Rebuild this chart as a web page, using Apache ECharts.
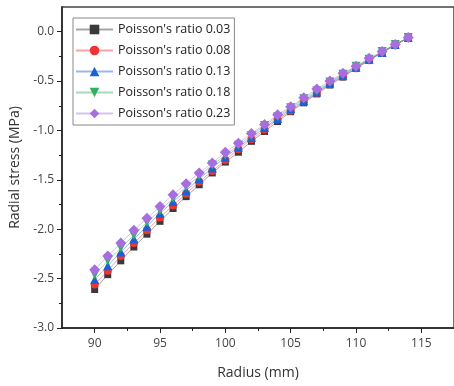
<!DOCTYPE html>
<html>
<head>
<meta charset="utf-8">
<script src="https://cdn.jsdelivr.net/npm/echarts@6/dist/echarts.min.js"></script>
<style>
html,body{margin:0;padding:0;background:#fff;}
#c{width:454px;height:386px;}
</style>
</head>
<body>
<div id="c"></div>
<script>
const radius = [90,91,92,93,94,95,96,97,98,99,100,101,102,103,104,105,106,107,108,109,110,111,112,113,114];
const s003 = [-2.61,-2.46,-2.32,-2.18,-2.05,-1.92,-1.79,-1.67,-1.55,-1.43,-1.32,-1.22,-1.11,-1.01,-0.91,-0.81,-0.72,-0.63,-0.54,-0.46,-0.37,-0.29,-0.21,-0.14,-0.06];
const s008 = [-2.56,-2.42,-2.27,-2.14,-2.01,-1.88,-1.76,-1.64,-1.52,-1.41,-1.30,-1.19,-1.09,-0.99,-0.89,-0.80,-0.71,-0.62,-0.53,-0.45,-0.37,-0.29,-0.21,-0.13,-0.06];
const s013 = [-2.51,-2.37,-2.23,-2.10,-1.97,-1.84,-1.72,-1.61,-1.49,-1.38,-1.27,-1.17,-1.07,-0.97,-0.88,-0.78,-0.70,-0.61,-0.52,-0.44,-0.36,-0.28,-0.21,-0.13,-0.06];
const s018 = [-2.46,-2.32,-2.19,-2.06,-1.93,-1.81,-1.69,-1.57,-1.46,-1.35,-1.25,-1.15,-1.05,-0.95,-0.86,-0.77,-0.68,-0.60,-0.51,-0.43,-0.35,-0.28,-0.20,-0.13,-0.06];
const s023 = [-2.41,-2.27,-2.14,-2.01,-1.89,-1.77,-1.65,-1.54,-1.43,-1.33,-1.22,-1.13,-1.03,-0.94,-0.84,-0.76,-0.67,-0.58,-0.50,-0.42,-0.35,-0.27,-0.20,-0.13,-0.06];
const seriesNames = ["Poisson's ratio 0.03","Poisson's ratio 0.08","Poisson's ratio 0.13","Poisson's ratio 0.18","Poisson's ratio 0.23"];
const xLabels = [90,95,100,105,110,115];
const xMinor = [92.5,97.5,102.5,107.5,112.5];
const yLabels = [-3,-2.5,-2,-1.5,-1,-0.5,0];
const yMinor = [-2.75,-2.25,-1.75,-1.25,-0.75,-0.25];

const allData = [s003,s008,s013,s018,s023];
const colors = ['#3a3a3a','#f03434','#1a62d4','#33b060','#a86ee0'];
const symbols = ['rect','circle','triangle','path://M0,0 L10,0 L5,9 Z','diamond'];
const sizes = [7,8,9,9,11];
const font = '"Open Sans", Lato, sans-serif';

const chart = echarts.init(document.getElementById('c'));
const series = allData.map((d,i)=>({
  name: seriesNames[i],
  type: 'line',
  xAxisIndex: 0, yAxisIndex: 0,
  data: d.map((v,j)=>[radius[j], v]),
  symbol: symbols[i],
  symbolSize: sizes[i],
  itemStyle: {color: colors[i]},
  lineStyle: {color: colors[i], width: 1, opacity: 0.45},
  z: 3+i
}));

chart.setOption({
  animation: false,
  grid: {left: 60, top: 7, right: -6, bottom: 58, show: true, borderColor: '#444', borderWidth: 1.5},
  legend: {
    orient: 'vertical', left: 73, top: 18,
    itemWidth: 37, itemHeight: 12, itemGap: 8,
    padding: [5, 4, 5, 2],
    borderColor: '#888', borderWidth: 1,
    textStyle: {fontFamily: font, fontSize: 12.5, color: '#222'},
    data: seriesNames
  },
  xAxis: [{
    type: 'value', min: 87.5, max: 117.5, position: 'bottom',
    name: 'Radius (mm)', nameLocation: 'middle', nameGap: 38,
    nameTextStyle: {fontFamily: font, fontSize: 14, color: '#333'},
    axisLine: {show: true, onZero: false, lineStyle: {color: '#222', width: 1.5}},
    axisTick: {show: true, customValues: xLabels, length: 5, inside: false, lineStyle: {color: '#222', width: 1}},
    axisLabel: {customValues: xLabels, margin: 10, fontFamily: font, fontSize: 12, color: '#444'},
    splitLine: {show: false}
  },{
    type: 'value', min: 87.5, max: 117.5, position: 'bottom',
    axisLine: {show: false, onZero: false},
    axisTick: {show: true, customValues: xMinor, length: 3, lineStyle: {color: '#222', width: 1}},
    axisLabel: {show: false},
    splitLine: {show: false}
  }],
  yAxis: [{
    type: 'value', min: -3, max: 0.25, position: 'left',
    name: 'Radial stress (MPa)', nameLocation: 'middle', nameGap: 40,
    nameTextStyle: {fontFamily: font, fontSize: 14, color: '#333'},
    axisLine: {show: true, onZero: false, lineStyle: {color: '#222', width: 1.5}},
    axisTick: {show: true, customValues: yLabels, length: 5, lineStyle: {color: '#222', width: 1}},
    axisLabel: {customValues: yLabels, margin: 8, fontFamily: font, fontSize: 12, color: '#444',
      formatter: v => v.toFixed(1)},
    splitLine: {show: false}
  },{
    type: 'value', min: -3, max: 0.25, position: 'left',
    axisLine: {show: false, onZero: false},
    axisTick: {show: true, customValues: yMinor, length: 3, lineStyle: {color: '#222', width: 1}},
    axisLabel: {show: false},
    splitLine: {show: false}
  }],
  series: series
});
</script>
</body>
</html>
